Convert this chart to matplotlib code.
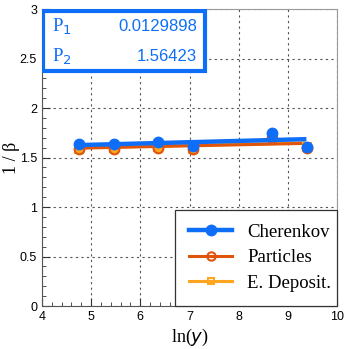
import matplotlib
matplotlib.use("Agg")
import matplotlib.pyplot as plt
import numpy as np
from matplotlib.lines import Line2D
from matplotlib.patches import Rectangle

# data
x_vals = [4.76, 5.46, 6.36, 7.07, 8.68, 9.38]
cherenkov = [1.633, 1.633, 1.656, 1.62, 1.75, 1.61]
particles = [1.585, 1.59, 1.60, 1.585, 1.70, 1.60]
edeposit = [1.59, 1.595, 1.605, 1.59, 1.705, 1.605]
fit_x = [4.76, 9.33]
p1_c, p2_c = 0.0129898, 1.56423
p1_p, p2_p = 0.0105, 1.545
p1_e, p2_e = 0.0105, 1.550
stat_labels = ["P$_1$", "P$_2$"]
stat_values = ["0.0129898", "1.56423"]
legend_labels = ["Cherenkov", "Particles", "E. Deposit."]

blue = "#0f6ef7"
red = "#e0550b"
orange = "#ffa51f"

fig = plt.figure(figsize=(3.49, 3.49), dpi=100)
ax = fig.add_axes([0.120, 0.123, 0.846, 0.851])
ax.set_xlim(4, 10)
ax.set_ylim(0, 3)

fx = np.array(fit_x)
ax.plot(fx, p2_e + p1_e * fx, color=orange, lw=2.2, zorder=3)
ax.plot(fx, p2_p + p1_p * fx, color=red, lw=2.2, zorder=3)
ax.plot(x_vals, edeposit, ls="none", marker="s", ms=6, mfc="none", mec=orange, mew=1.5, zorder=4)
ax.plot(x_vals, particles, ls="none", marker="o", ms=7, mfc=orange, mec=red, mew=1.5, zorder=4)
ax.plot(fx, p2_c + p1_c * fx, color=blue, lw=3.2, zorder=5)
ax.plot(x_vals, cherenkov, ls="none", marker="o", ms=7.5, color=blue, zorder=6)

# axes styling
ax.set_xticks(np.arange(4, 10.1, 1))
ax.set_yticks(np.arange(0, 3.01, 0.5))
ax.set_xticklabels(["4", "5", "6", "7", "8", "9", "10"])
ax.set_yticklabels(["0", "0.5", "1", "1.5", "2", "2.5", "3"])
ax.set_xticks(np.arange(4, 10.01, 0.2), minor=True)
ax.set_yticks(np.arange(0, 3.01, 0.1), minor=True)
ax.tick_params(which="both", direction="in", top=False, right=False, labelsize=9, colors="#333333")
ax.tick_params(which="major", length=6)
ax.tick_params(which="minor", length=3)
for lab in ax.get_xticklabels() + ax.get_yticklabels():
    lab.set_fontfamily("Liberation Sans")
    lab.set_color("black")
ax.grid(True, which="major", ls=(0, (2, 3)), color="#555555", lw=0.8)
for s in ["top", "right"]:
    ax.spines[s].set_color("#999999")
    ax.spines[s].set_linestyle((0, (2, 1)))
for s in ["left", "bottom"]:
    ax.spines[s].set_color("#555555")

ax.set_xlabel("ln($\\it{y}$)", fontfamily="Liberation Serif", fontsize=13)
ax.set_ylabel("1 / β", fontfamily="Liberation Serif", fontsize=13)
ax.xaxis.set_label_coords(0.5, -0.07)
ax.yaxis.set_label_coords(-0.075, 0.5)

# stats box
ax.add_patch(Rectangle((0.003, 0.793), 0.55, 0.202, transform=ax.transAxes,
                       fill=True, facecolor="white", edgecolor=blue, lw=3, zorder=10))
for i, (lab, val) in enumerate(zip(stat_labels, stat_values)):
    yy = 0.94 - i * 0.1
    ax.text(0.035, yy, lab, transform=ax.transAxes, color=blue, fontsize=13.5,
            fontfamily="Liberation Serif", va="center", ha="left", zorder=11)
    ax.text(0.525, yy, val, transform=ax.transAxes, color=blue, fontsize=12,
            fontfamily="Liberation Sans", va="center", ha="right", zorder=11)

# legend
handles = [
    Line2D([], [], color=blue, lw=3.2, marker="o", ms=7.5),
    Line2D([], [], color=red, lw=2.2, marker="o", ms=6, mfc="none", mew=1.5),
    Line2D([], [], color=orange, lw=2.2, marker="s", ms=5, mfc="none", mew=1.5),
]
leg = ax.legend(handles, legend_labels, loc="lower left", bbox_to_anchor=(0.451, 0.0, 0.549, 0.32),
                mode="expand", frameon=True, fancybox=False, borderaxespad=0,
                prop={"family": "Liberation Serif", "size": 13.5}, handlelength=2.3,
                handletextpad=0.8, labelspacing=0.45, borderpad=0.75)
leg.get_frame().set_edgecolor("#333333")
leg.get_frame().set_linewidth(0.9)
leg.get_frame().set_alpha(1)
leg.set_zorder(12)

fig.savefig("out.png", dpi=100)
